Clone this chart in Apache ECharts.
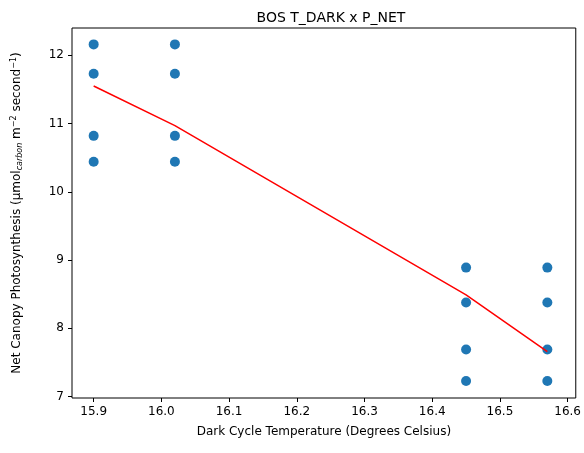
<!DOCTYPE html>
<html><head><meta charset="utf-8">
<script src="https://cdn.jsdelivr.net/npm/echarts@6/dist/echarts.min.js"></script>
<style>html,body{margin:0;padding:0;background:#fff}#c{width:584px;height:453px}</style>
</head><body><div id="c"></div>
<script>
const scatterX = [15.9,15.9,15.9,15.9,16.02,16.02,16.02,16.02,16.45,16.45,16.45,16.45,16.57,16.57,16.57,16.57];
const scatterY = [12.16,11.73,10.82,10.44,12.16,11.73,10.82,10.44,8.89,8.38,7.69,7.23,8.89,8.38,7.69,7.23];
const lineX = [15.9,16.02,16.45,16.57];
const lineY = [11.55,10.97,8.49,7.66];
const xTicks = [15.9,16.0,16.1,16.2,16.3,16.4,16.5,16.6];
const yTicks = [7,8,9,10,11,12];
const font = 'DejaVu Sans';
const chart = echarts.init(document.getElementById('c'));
chart.setOption({
  animation:false,
  textStyle:{fontFamily:font},
  title:{text:'BOS T_DARK x P_NET',left:326,textAlign:'center',top:6,textStyle:{fontFamily:font,fontWeight:'normal',fontSize:14,color:'#000'}},
  grid:{left:72,right:7,top:28,bottom:55,show:true,borderColor:'#000',borderWidth:1},
  xAxis:{type:'value',min:15.868,max:16.612,
    name:'Dark Cycle Temperature (Degrees Celsius)',nameLocation:'middle',nameGap:28,
    nameTextStyle:{fontSize:12,color:'#000'},
    axisLine:{show:false},splitLine:{show:false},
    axisTick:{show:true,customValues:xTicks,length:4,lineStyle:{color:'#000'}},
    axisLabel:{customValues:xTicks,color:'#000',fontSize:12,formatter:v=>v.toFixed(1)}},
  yAxis:{type:'value',min:6.98,max:12.4,
    name:'{a|Net Canopy Photosynthesis (µmol}{s|carbon}{a| m}{p|−2}{a| second}{p|−1}{a|)}',
    nameLocation:'middle',nameGap:48,
    nameTextStyle:{rich:{a:{fontSize:12,color:'#000',fontFamily:font},s:{fontSize:8,color:'#000',fontStyle:'italic',verticalAlign:'bottom',padding:[4,0,0,0],fontFamily:font},p:{fontSize:8,color:'#000',verticalAlign:'top',padding:[0,0,6,0],fontFamily:font}}},
    axisLine:{show:false},splitLine:{show:false},
    axisTick:{show:true,customValues:yTicks,length:4,lineStyle:{color:'#000'}},
    axisLabel:{customValues:yTicks,color:'#000',fontSize:12}},
  series:[
    {type:'scatter',data:scatterX.map((x,i)=>[x,scatterY[i]]),symbolSize:10,itemStyle:{color:'#1f77b4',opacity:1}},
    {type:'line',data:lineX.map((x,i)=>[x,lineY[i]]),showSymbol:false,lineStyle:{color:'#ff0000',width:1.5}}
  ]
});
</script></body></html>
